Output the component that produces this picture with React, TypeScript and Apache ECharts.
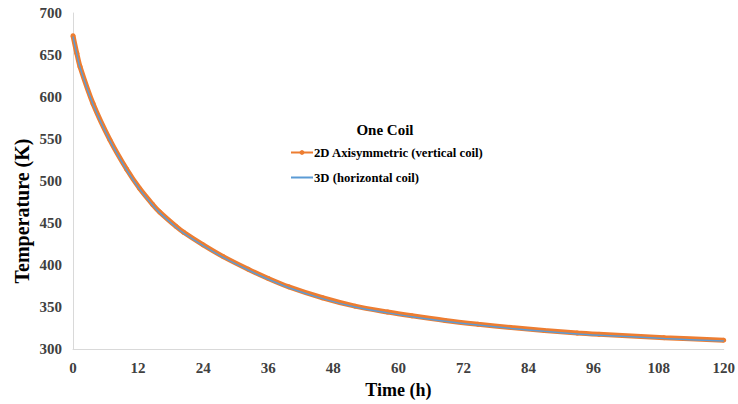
import React, { useEffect, useRef } from "react";
import * as echarts from "echarts";

const seriesNames = ["2D Axisymmetric (vertical coil)", "3D (horizontal coil)"];
const times2D = [0, 0.7, 1.3, 3.7, 6.8, 9.9, 12.3, 14.7, 16, 19, 20.4, 24, 27.7, 32.3, 36, 39.8, 46, 52, 58, 62.5, 68.6, 74.7, 80.8, 86.9, 93, 97, 109, 120];
const temps2D = [673, 652, 636, 592, 549, 514, 491, 472, 463, 446, 439, 424, 410, 395, 384, 374, 361, 351, 344, 339.5, 334, 329.5, 325.5, 322, 319, 317.5, 313.5, 310.5];
const times3D = [0, 0.7, 1.3, 3.7, 6.8, 9.9, 12.3, 14.7, 16, 19, 20.4, 24, 27.7, 32.3, 36, 39.8, 46, 52, 58, 62.5, 68.6, 74.7, 80.8, 86.9, 93, 97, 109, 120];
const temps3D = [672, 651, 635, 591, 548, 513, 490, 471, 462, 445, 438, 423, 409, 394, 383, 373, 360, 350, 343, 338.5, 333, 328.5, 324.5, 321, 318, 316.5, 312.5, 309.5];
const xTicks = [0, 12, 24, 36, 48, 60, 72, 84, 96, 108, 120];
const yTicks = [300, 350, 400, 450, 500, 550, 600, 650, 700];
const legendTitle = "One Coil";

const FONT = "'Liberation Serif', 'Times New Roman', 'DejaVu Serif', serif";

export default function App() {
  const ref = useRef<HTMLDivElement>(null);
  useEffect(() => {
    if (!ref.current) return;
    const chart = echarts.init(ref.current, undefined, { renderer: "svg" });
    const d2 = times2D.map((t, i) => [t, temps2D[i]]);
    const d3 = times3D.map((t, i) => [t, temps3D[i]]);
    chart.setOption({
      animation: false,
      backgroundColor: "#ffffff",
      textStyle: { fontFamily: FONT },
      legend: {
        orient: "vertical",
        left: 290,
        top: 146,
        padding: 0,
        itemGap: 12,
        itemWidth: 22,
        itemHeight: 6,
        data: [
          { name: seriesNames[0] },
          { name: seriesNames[1], itemStyle: { opacity: 0 } },
        ],
        textStyle: { fontFamily: FONT, fontWeight: "bold", fontSize: 12.7, color: "#000", padding: [0, 0, 0, -4] },
      },
      graphic: [
        {
          type: "text",
          x: 385,
          y: 130,
          style: {
            text: legendTitle,
            fontFamily: FONT,
            fontWeight: "bold",
            fontSize: 15,
            fill: "#000",
            align: "center",
            verticalAlign: "middle",
          },
        },
        {
          type: "text",
          x: 22,
          y: 211,
          rotation: Math.PI / 2,
          style: {
            text: "Temperature (K)",
            fontFamily: FONT,
            fontWeight: "bold",
            fontSize: 20,
            fill: "#000",
            align: "center",
            verticalAlign: "middle",
          },
        },
      ],
      grid: { left: 73, right: 11, top: 13, bottom: 54, containLabel: false },
      xAxis: {
        type: "value",
        min: xTicks[0],
        max: xTicks[xTicks.length - 1],
        interval: 12,
        name: "Time (h)",
        nameLocation: "middle",
        nameGap: 32,
        nameTextStyle: { fontFamily: FONT, fontWeight: "bold", fontSize: 18, color: "#000" },
        axisLine: { show: true, lineStyle: { color: "#d9d9d9", width: 1 } },
        axisTick: { show: false },
        splitLine: { show: false },
        axisLabel: { fontFamily: FONT, fontWeight: "bold", fontSize: 15, color: "#404040", margin: 11 },
      },
      yAxis: {
        type: "value",
        min: yTicks[0],
        max: yTicks[yTicks.length - 1],
        interval: 50,
        axisLine: { show: true, lineStyle: { color: "#d9d9d9", width: 1 } },
        axisTick: { show: false },
        splitLine: { show: false },
        axisLabel: { fontFamily: FONT, fontWeight: "bold", fontSize: 15, color: "#404040", margin: 11 },
      },
      series: [
        {
          name: seriesNames[0],
          type: "line",
          data: d2,
          smooth: 0.3,
          showSymbol: true,
          symbol: "circle",
          symbolSize: 5,
          color: "#ED7D31",
          itemStyle: { color: "#ED7D31" },
          lineStyle: { color: "#ED7D31", width: 5 },
          z: 2,
        },
        {
          name: seriesNames[1],
          type: "line",
          data: d3,
          smooth: 0.3,
          showSymbol: false,
          symbol: "none",
          color: "#5B9BD5",
          itemStyle: { color: "#5B9BD5" },
          lineStyle: { color: "#5B9BD5", width: 1.5 },
          z: 3,
        },
      ],
    });
    return () => chart.dispose();
  }, []);
  return <div ref={ref} style={{ position: "fixed", left: 0, top: 0, width: 738, height: 404 }} />;
}
